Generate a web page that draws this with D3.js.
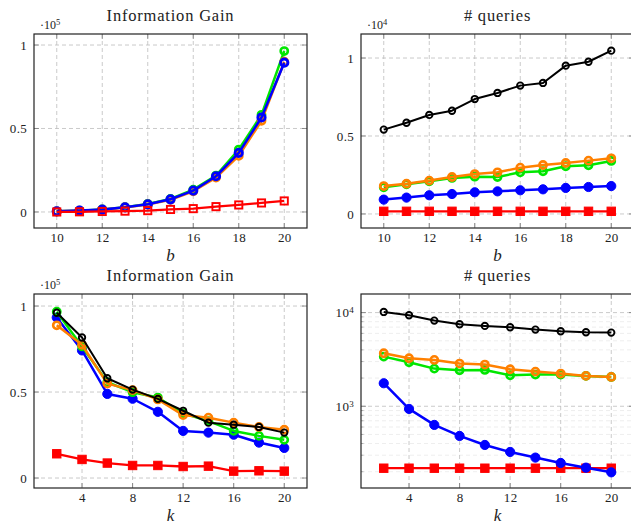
<!DOCTYPE html>
<html>
<head>
<meta charset="utf-8">
<script src="https://cdn.jsdelivr.net/npm/d3@7"></script>
<style>
  body { margin: 0; background: #fff; }
  svg { display: block; font-family: "Liberation Serif", "DejaVu Serif", serif; }
  svg text { font-family: "Liberation Serif", "DejaVu Serif", serif; }
</style>
</head>
<body>
<svg id="chart" width="631" height="527"></svg>
<script>
// x values
const bVals = [10, 11, 12, 13, 14, 15, 16, 17, 18, 19, 20];
const kVals = [2, 4, 6, 8, 10, 12, 14, 16, 18, 20];

// tick labels
const bTicks = [10, 12, 14, 16, 18, 20];
const kTicks = [4, 8, 12, 16, 20];
const linTicks = [0, 0.5, 1];
const logTicks = [1000, 10000];

// information gain vs b (x 10^5)
const igB_green  = [0.004, 0.008, 0.015, 0.029, 0.048, 0.078, 0.134, 0.218, 0.374, 0.582, 0.964];
const igB_orange = [0.004, 0.008, 0.014, 0.027, 0.045, 0.073, 0.124, 0.206, 0.336, 0.546, 0.900];
const igB_blue   = [0.004, 0.008, 0.014, 0.028, 0.046, 0.076, 0.128, 0.214, 0.354, 0.566, 0.894];
const igB_red    = [0.000, 0.001, 0.003, 0.005, 0.008, 0.015, 0.020, 0.032, 0.042, 0.054, 0.066];

// # queries vs b (x 10^4)
const qB_red    = [0.017, 0.017, 0.017, 0.017, 0.017, 0.017, 0.017, 0.017, 0.017, 0.017, 0.017];
const qB_blue   = [0.092, 0.105, 0.120, 0.128, 0.139, 0.145, 0.152, 0.158, 0.167, 0.173, 0.179];
const qB_green  = [0.171, 0.190, 0.209, 0.231, 0.239, 0.237, 0.267, 0.274, 0.306, 0.312, 0.340];
const qB_orange = [0.179, 0.194, 0.214, 0.237, 0.256, 0.267, 0.297, 0.314, 0.327, 0.342, 0.357];
const qB_black  = [0.541, 0.585, 0.635, 0.662, 0.737, 0.776, 0.823, 0.840, 0.951, 0.976, 1.047];

// information gain vs k (x 10^5)
const igK_red    = [0.141, 0.108, 0.087, 0.073, 0.073, 0.067, 0.069, 0.040, 0.042, 0.040];
const igK_blue   = [0.933, 0.742, 0.489, 0.461, 0.385, 0.274, 0.264, 0.252, 0.206, 0.175];
const igK_green  = [0.967, 0.765, 0.557, 0.499, 0.468, 0.376, 0.331, 0.274, 0.245, 0.222];
const igK_orange = [0.888, 0.775, 0.549, 0.511, 0.457, 0.366, 0.351, 0.322, 0.297, 0.281];
const igK_black  = [0.961, 0.817, 0.580, 0.514, 0.460, 0.391, 0.322, 0.310, 0.297, 0.264];

// # queries vs k (log)
const qK_red    = [218, 218, 218, 218, 218, 218, 218, 218, 218, 218];
const qK_blue   = [1761, 937, 632, 482, 386, 325, 283, 248, 221, 197];
const qK_green  = [3390, 2951, 2523, 2421, 2440, 2143, 2178, 2178, 2109, 2057];
const qK_orange = [3681, 3254, 3125, 2855, 2786, 2483, 2344, 2233, 2109, 2057];
const qK_black  = [10160, 9370, 8215, 7506, 7208, 6975, 6585, 6322, 6166, 6115];

const GREEN = "#00e600", ORANGE = "#ff8000", BLUE = "#0000ff", RED = "#ff0000", BLACK = "#000";
const SERIF = '"Liberation Serif", "DejaVu Serif", serif';
const INK = "#222";

const svg = d3.select("#chart");

function drawPanel(opt) {
  const w = 273, h = 194;
  const x = d3.scaleLinear().domain(opt.xDomain).range([0, w]);
  const y = (opt.log ? d3.scaleLog() : d3.scaleLinear()).domain(opt.yDomain).range([h, 0]);
  const g = svg.append("g").attr("transform", `translate(${opt.left},${opt.top})`);

  // minor log grid
  if (opt.log) {
    const minor = [];
    [100, 1000, 10000].forEach(d => { for (let m = 2; m <= 9; m++) minor.push(d * m); });
    const mv = minor.filter(v => v > opt.yDomain[0] && v < opt.yDomain[1]);
    g.append("g").selectAll("line").data(mv).join("line")
      .attr("x1", 0).attr("x2", w).attr("y1", d => y(d)).attr("y2", d => y(d))
      .attr("stroke", "#e6e6e6").attr("stroke-width", 0.7).attr("stroke-dasharray", "4,3");
    g.append("g").selectAll("path").data(mv).join("path")
      .attr("d", d => `M0,${y(d)}h2.5M${w},${y(d)}h-2.5`)
      .attr("stroke", "#888").attr("stroke-width", 0.6);
  }

  // major grid
  g.append("g").selectAll("line").data(opt.xTicks).join("line")
    .attr("x1", d => x(d)).attr("x2", d => x(d)).attr("y1", 0).attr("y2", h)
    .attr("stroke", "#bdbdbd").attr("stroke-width", 0.8).attr("stroke-dasharray", "4,3");
  g.append("g").selectAll("line").data(opt.yTicks).join("line")
    .attr("x1", 0).attr("x2", w).attr("y1", d => y(d)).attr("y2", d => y(d))
    .attr("stroke", "#bdbdbd").attr("stroke-width", 0.8).attr("stroke-dasharray", "4,3");

  // inner ticks on all sides
  g.append("g").selectAll("path").data(opt.xTicks).join("path")
    .attr("d", d => `M${x(d)},${h}v-5M${x(d)},0v5`)
    .attr("stroke", "#777").attr("stroke-width", 0.8);
  g.append("g").selectAll("path").data(opt.yTicks).join("path")
    .attr("d", d => `M0,${y(d)}h5M${w},${y(d)}h-5`)
    .attr("stroke", "#777").attr("stroke-width", 0.8);

  // axes (labels only)
  const xa = g.append("g").attr("transform", `translate(0,${h})`)
    .call(d3.axisBottom(x).tickValues(opt.xTicks).tickSize(0).tickPadding(5));
  const ya = g.append("g")
    .call(d3.axisLeft(y).tickValues(opt.yTicks).tickSize(0).tickPadding(7)
      .tickFormat(d => opt.log ? "" : d3.format("~g")(d)));
  [xa, ya].forEach(a => {
    a.attr("font-family", null).attr("font-size", null);
    a.select(".domain").remove();
    a.selectAll("text").style("font-family", SERIF)
      .style("font-size", "13px").attr("letter-spacing", 0.3).attr("fill", INK);
  });
  if (opt.log) {
    ya.selectAll(".tick text").each(function(d) {
      const t = d3.select(this);
      t.append("tspan").text("10");
      t.append("tspan").attr("dy", "-0.45em").style("font-size", "9px").text(Math.round(Math.log10(d)));
    });
  }

  // series
  const line = d3.line().x(d => x(d[0])).y(d => y(d[1]));
  opt.series.forEach(s => {
    const pts = opt.xs.map((xv, i) => [xv, s.values[i]]);
    g.append("path").datum(pts)
      .attr("fill", "none").attr("stroke", s.color)
      .attr("stroke-width", s.lw).attr("stroke-linejoin", "round")
      .attr("d", line);
    const mk = g.append("g");
    if (s.shape === "square") {
      mk.selectAll("rect").data(pts).join("rect")
        .attr("x", d => x(d[0]) - s.size).attr("y", d => y(d[1]) - s.size)
        .attr("width", s.size * 2).attr("height", s.size * 2)
        .attr("fill", s.filled ? s.color : "none")
        .attr("stroke", s.color).attr("stroke-width", s.msw);
    } else {
      mk.selectAll("circle").data(pts).join("circle")
        .attr("cx", d => x(d[0])).attr("cy", d => y(d[1])).attr("r", s.size)
        .attr("fill", s.filled ? s.color : "none")
        .attr("stroke", s.color).attr("stroke-width", s.msw);
    }
  });

  // frame
  g.append("rect").attr("width", w).attr("height", h)
    .attr("fill", "none").attr("stroke", "#222").attr("stroke-width", 1.2);

  // title, x label, multiplier
  g.append("text").attr("x", w / 2).attr("y", -13).attr("text-anchor", "middle")
    .style("font-size", "16.5px").attr("letter-spacing", 0.8).attr("fill", INK).text(opt.title);
  g.append("text").attr("x", w / 2).attr("y", h + 33).attr("text-anchor", "middle")
    .style("font-size", "17px").attr("font-style", "italic").attr("fill", INK).text(opt.xLabel);
  if (opt.mult) {
    const m = g.append("text").attr("x", 6).attr("y", -5).style("font-size", "12px").attr("fill", INK);
    m.append("tspan").text("\u00b710");
    m.append("tspan").attr("dy", "-0.45em").style("font-size", "8.5px").text(opt.mult);
  }
}

// marker styles
const ring = (values, color) => ({ values, color, lw: 2.5, shape: "circle", filled: false, size: 3.6, msw: 2.6 });
const dot = (values, color) => ({ values, color, lw: 2.5, shape: "circle", filled: true, size: 4.6, msw: 1 });
const blackRing = values => ({ values, color: BLACK, lw: 2, shape: "circle", filled: false, size: 3.2, msw: 1.9 });
const redSq = values => ({ values, color: RED, lw: 2.3, shape: "square", filled: true, size: 4.2, msw: 1 });

drawPanel({
  left: 34, top: 34, xs: bVals, xDomain: [9, 21], yDomain: [-0.096, 1.066],
  xTicks: bTicks, yTicks: linTicks, title: "Information Gain", xLabel: "b", mult: "5",
  series: [
    ring(igB_green, GREEN),
    ring(igB_orange, ORANGE),
    { values: igB_blue, color: BLUE, lw: 2.6, shape: "circle", filled: false, size: 3.7, msw: 2.8 },
    { values: igB_red, color: RED, lw: 2.3, shape: "square", filled: false, size: 3.6, msw: 1.9 }
  ]
});

drawPanel({
  left: 361, top: 34, xs: bVals, xDomain: [9, 21], yDomain: [-0.09, 1.154],
  xTicks: bTicks, yTicks: linTicks, title: "# queries", xLabel: "b", mult: "4",
  series: [redSq(qB_red), dot(qB_blue, BLUE), ring(qB_green, GREEN), ring(qB_orange, ORANGE), blackRing(qB_black)]
});

drawPanel({
  left: 34, top: 294, xs: kVals, xDomain: [0.2, 21.8], yDomain: [-0.058, 1.07],
  xTicks: kTicks, yTicks: linTicks, title: "Information Gain", xLabel: "k", mult: "5",
  series: [redSq(igK_red), dot(igK_blue, BLUE), ring(igK_green, GREEN), ring(igK_orange, ORANGE), blackRing(igK_black)]
});

drawPanel({
  left: 361, top: 294, xs: kVals, xDomain: [0.2, 21.8], yDomain: [134, 15800], log: true,
  xTicks: kTicks, yTicks: logTicks, title: "# queries", xLabel: "k",
  series: [redSq(qK_red), dot(qK_blue, BLUE), ring(qK_green, GREEN), ring(qK_orange, ORANGE), blackRing(qK_black)]
});
</script>
</body>
</html>
